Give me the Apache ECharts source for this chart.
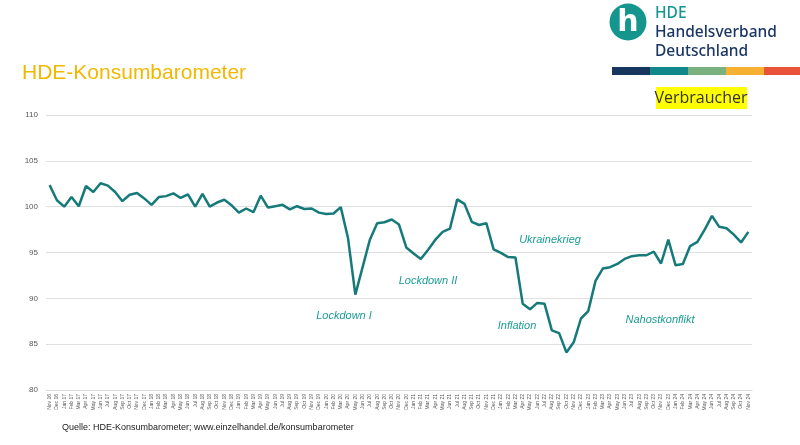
<!DOCTYPE html>
<html><head><meta charset="utf-8">
<script src="https://cdn.jsdelivr.net/npm/echarts@6/dist/echarts.min.js"></script>
<style>html,body{margin:0;padding:0;background:#fff}#c{width:800px;height:445px}</style>
</head><body><div id="c"></div>
<script>
const months = [
"Nov 16","Dec 16",
"Jan 17","Feb 17","Mar 17","Apr 17","May 17","Jun 17","Jul 17","Aug 17","Sep 17","Oct 17","Nov 17","Dec 17",
"Jan 18","Feb 18","Mar 18","Apr 18","May 18","Jun 18","Jul 18","Aug 18","Sep 18","Oct 18","Nov 18","Dec 18",
"Jan 19","Feb 19","Mar 19","Apr 19","May 19","Jun 19","Jul 19","Aug 19","Sep 19","Oct 19","Nov 19","Dec 19",
"Jan 20","Feb 20","Mar 20","Apr 20","May 20","Jun 20","Jul 20","Aug 20","Sep 20","Oct 20","Nov 20","Dec 20",
"Jan 21","Feb 21","Mar 21","Apr 21","May 21","Jun 21","Jul 21","Aug 21","Sep 21","Oct 21","Nov 21","Dec 21",
"Jan 22","Feb 22","Mar 22","Apr 22","May 22","Jun 22","Jul 22","Aug 22","Sep 22","Oct 22","Nov 22","Dec 22",
"Jan 23","Feb 23","Mar 23","Apr 23","May 23","Jun 23","Jul 23","Aug 23","Sep 23","Oct 23","Nov 23","Dec 23",
"Jan 24","Feb 24","Mar 24","Apr 24","May 24","Jun 24","Jul 24","Aug 24","Sep 24","Oct 24","Nov 24"
];
const index = [
102.35,100.7,100.0,101.05,100.05,102.25,101.6,102.55,102.3,101.6,100.6,101.3,101.5,100.9,100.2,101.05,101.15,101.45,100.95,101.35,100.0,101.4,100.0,
100.45,100.75,100.15,99.35,99.8,99.4,101.2,99.9,100.05,100.2,99.7,100.05,99.75,99.8,99.35,99.2,99.25,99.95,96.55,90.4,93.4,96.4,98.2,
98.3,98.6,98.05,95.55,94.9,94.3,95.3,96.4,97.25,97.6,100.8,100.3,98.35,98.0,98.2,95.35,94.95,94.5,94.45,89.4,88.8,89.5,89.4,86.5,
86.2,84.1,85.2,87.8,88.6,91.9,93.25,93.4,93.75,94.3,94.6,94.7,94.7,95.1,93.8,96.4,93.6,93.75,95.7,96.15,97.5,99.0,97.8,97.65,96.95,96.1,97.25
];
const yTicks = {min: 80, max: 110, step: 5};
const notes = [
  {text: "Lockdown I", x: 344, y: 316},
  {text: "Lockdown II", x: 428, y: 281},
  {text: "Ukrainekrieg", x: 550, y: 240},
  {text: "Inflation", x: 517, y: 326},
  {text: "Nahostkonflikt", x: 660, y: 320}
];
const stripe = ["#17375E","#11898A","#79B17F","#F6B133","#E9533A"];

const chart = echarts.init(document.getElementById('c'), null, {renderer: 'canvas'});
const graphics = [
  {type:'text', left:22, top:63, style:{text:'HDE-Konsumbarometer', font:'21px "Liberation Sans", Arial, sans-serif', fill:'#F2B800'}},
  {type:'circle', shape:{cx:628, cy:22, r:18.5}, style:{fill:'#14968F'}},
  {type:'text', x:628, y:23, style:{text:'h', font:'bold 30px "DejaVu Sans", sans-serif', fill:'#fff', align:'center', verticalAlign:'middle'}},
  {type:'text', left:655, top:6, style:{text:'HDE', font:'500 15.5px "Noto Sans", sans-serif', fill:'#14968F'}},
  {type:'text', left:655, top:25, style:{text:'Handelsverband', font:'500 15.5px "Noto Sans", sans-serif', fill:'#1A3664'}},
  {type:'text', left:655, top:44, style:{text:'Deutschland', font:'500 15.5px "Noto Sans", sans-serif', fill:'#1A3664'}},
  {type:'rect', shape:{x:656, y:87, width:91, height:22}, style:{fill:'#FFFF00'}},
  {type:'text', x:701, y:98, style:{text:'Verbraucher', font:'16px "Open Sans", sans-serif', fill:'#333', align:'center', verticalAlign:'middle'}},
  {type:'text', left:62, top:423, style:{text:'Quelle: HDE-Konsumbarometer; www.einzelhandel.de/konsumbarometer', font:'9px "Liberation Sans", Arial, sans-serif', fill:'#222'}}
];
stripe.forEach((c,i)=>graphics.push({type:'rect', shape:{x:612+i*38, y:67, width:38, height:8}, style:{fill:c}}));
notes.forEach(n=>graphics.push({type:'text', x:n.x, y:n.y, style:{text:n.text, font:'italic 11px "Liberation Sans", Arial, sans-serif', fill:'#1A9C94', align:'center', verticalAlign:'middle'}}));

chart.setOption({
  animation:false,
  grid:{left:46, right:48, top:115, bottom:55, containLabel:false},
  xAxis:{type:'category', data:months, boundaryGap:true,
    axisLine:{lineStyle:{color:'#D9D9D9'}}, axisTick:{show:false},
    axisLabel:{interval:0, rotate:90, fontSize:5, color:'#595959', margin:4, fontFamily:'Liberation Sans'}},
  yAxis:{type:'value', min:yTicks.min, max:yTicks.max, interval:yTicks.step,
    axisLine:{show:false}, axisTick:{show:false},
    axisLabel:{fontSize:8, color:'#595959', margin:8, fontFamily:'Liberation Sans'},
    splitLine:{lineStyle:{color:'#E0E0E0'}}},
  series:[{type:'line', data:index, symbol:'none', lineStyle:{color:'#16797A', width:2.5}}],
  graphic:graphics
});
</script></body></html>
